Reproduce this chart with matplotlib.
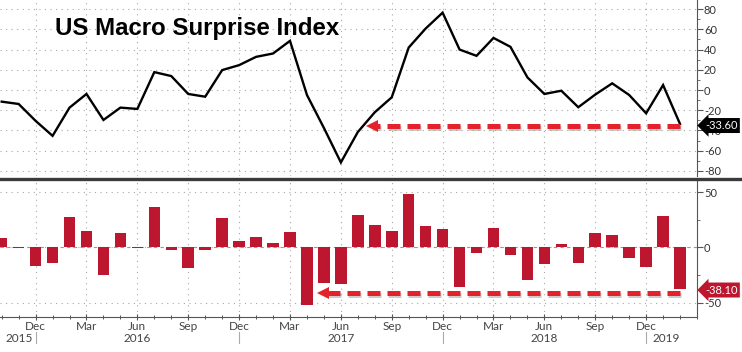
import matplotlib.pyplot as plt
import matplotlib.patheffects as pe
import matplotlib.transforms as mtransforms
from matplotlib.ticker import MultipleLocator, FixedLocator

# monthly points, Oct 2015 .. Feb 2019
months = ['Oct 2015', 'Nov 2015', 'Dec 2015',
          'Jan 2016', 'Feb 2016', 'Mar 2016', 'Apr 2016', 'May 2016', 'Jun 2016',
          'Jul 2016', 'Aug 2016', 'Sep 2016', 'Oct 2016', 'Nov 2016', 'Dec 2016',
          'Jan 2017', 'Feb 2017', 'Mar 2017', 'Apr 2017', 'May 2017', 'Jun 2017',
          'Jul 2017', 'Aug 2017', 'Sep 2017', 'Oct 2017', 'Nov 2017', 'Dec 2017',
          'Jan 2018', 'Feb 2018', 'Mar 2018', 'Apr 2018', 'May 2018', 'Jun 2018',
          'Jul 2018', 'Aug 2018', 'Sep 2018', 'Oct 2018', 'Nov 2018', 'Dec 2018',
          'Jan 2019', 'Feb 2019']

surprise = [-11.5, -13.8, -30.5, -45.3, -17.4, -3.9, -29.6, -17.4, -18.7,
            17.7, 13.8, -3.9, -6.6, 19.7, 24.6, 32.8, 36.1, 48.6,
            -4.9, -37.5, -71.6, -41.5, -22.0, -7.2, 42.0, 60.8, 76.5,
            40.0, 33.8, 51.5, 42.7, 12.5, -3.9, -0.7, -17.0, -4.5,
            6.6, -4.9, -23.0, 4.9, -33.6]

monthly_change = [8.6, -1.0, -16.8, -14.4, 27.6, 14.7, -24.9, 13.2, -0.8,
                  36.6, -2.4, -18.3, -2.4, 26.1, 5.7, 9.0, 3.6, 13.8,
                  -51.9, -32.4, -33.3, 29.7, 20.1, 15.0, 48.6, 19.5, 16.8,
                  -36.0, -5.1, 17.4, -6.9, -29.4, -15.3, 3.0, -14.4, 12.6,
                  11.1, -9.9, -17.4, 28.2, -38.1]

quarter_names = ['Dec', 'Mar', 'Jun', 'Sep']
years = ['2015', '2016', '2017', '2018', '2019']

BAR_RED = '#bd1730'
ARROW_RED = '#e3222b'
GRID = dict(color='#a8a8a8', linestyle=(0, (1, 4)), linewidth=0.8)


def style_axis(ax, n):
    ax.set_xlim(-0.1, n)
    ax.yaxis.tick_right()
    for side in ('left', 'top'):
        ax.spines[side].set_visible(False)
    ax.spines['right'].set_color('#555555')
    ax.tick_params(axis='y', which='major', length=4, width=0.8,
                   colors='#555555', labelcolor='#333333', labelsize=8, pad=1)
    ax.tick_params(axis='y', which='minor', length=2.5, width=0.6, colors='#555555')
    ax.xaxis.set_major_locator(FixedLocator(list(range(2, n, 3))))
    ax.xaxis.set_minor_locator(MultipleLocator(1))
    ax.grid(True, which='major', **GRID)
    ax.set_axisbelow(True)


def dashed_arrow(ax, x_tail, x_head, y):
    shadow = [pe.SimpleLineShadow(offset=(1, -1.5), shadow_color='#999999', alpha=0.5),
              pe.Normal()]
    ax.plot([x_tail, x_head + 0.4], [y, y], color=ARROW_RED, lw=3.6,
            dashes=(2.6, 1.4), solid_capstyle='butt', dash_capstyle='butt',
            path_effects=shadow, zorder=5)
    ax.plot([x_head + 0.35], [y], marker='<', markersize=9, color=ARROW_RED,
            markeredgewidth=0, zorder=6)


def value_tag(ax, value, y, color):
    ax.annotate('%.2f' % value, xy=(1.0, y), xycoords=ax.get_yaxis_transform(),
                xytext=(6, 0), textcoords='offset points', va='center', ha='left',
                color='white', fontsize=8, family='Lato',
                bbox=dict(boxstyle='larrow,pad=0.18', fc=color, ec='none'),
                zorder=10, annotation_clip=False)


def main():
    n = len(months)
    x = list(range(n))

    fig = plt.figure(figsize=(7.42, 3.52), dpi=100)
    ax_top = fig.add_axes([0.0, 0.5, 697 / 742, 0.5])
    ax_bot = fig.add_axes([0.0, 1 - 317 / 352, 697 / 742, (317 - 181) / 352])

    # top: surprise index
    ax_top.plot(x, surprise, color='black', lw=1.7, solid_joinstyle='miter', zorder=4)
    style_axis(ax_top, n)
    ax_top.set_ylim(-85, 89)
    top_ticks = list(range(-80, 81, 20))
    ax_top.yaxis.set_major_locator(FixedLocator(top_ticks))
    ax_top.yaxis.set_minor_locator(MultipleLocator(10))
    ax_top.set_yticklabels([str(v) for v in top_ticks], family='Lato')
    ax_top.spines['bottom'].set_visible(False)
    ax_top.tick_params(axis='x', which='both', bottom=False, labelbottom=False)
    dashed_arrow(ax_top, n - 1, 21.5, surprise[-1] - 1.5)
    value_tag(ax_top, surprise[-1], surprise[-1] - 1.5, 'black')

    # bottom: monthly change
    ax_bot.bar(x, monthly_change, width=0.68, color=BAR_RED, zorder=3)
    ax_bot.axhline(0, color='#999999', lw=0.8, linestyle=(0, (3, 3)), zorder=2)
    style_axis(ax_bot, n)
    ax_bot.set_ylim(-63, 60)
    ax_bot.yaxis.set_major_locator(FixedLocator([-50, 0, 50]))
    ax_bot.yaxis.set_minor_locator(FixedLocator([-25, 25]))
    ax_bot.set_yticklabels(['-50', '0', '50'], family='Lato')
    ax_bot.spines['bottom'].set_color('#555555')
    ax_bot.tick_params(axis='x', which='major', length=4, width=0.8, direction='inout',
                       colors='#555555', labelcolor='#444444', labelsize=8.5, pad=1)
    ax_bot.tick_params(axis='x', which='minor', length=3, width=0.7, direction='inout',
                       colors='#555555')
    nq = len(range(2, n, 3))
    ax_bot.set_xticklabels([quarter_names[k % 4] for k in range(nq)], family='Lato')
    dashed_arrow(ax_bot, n - 1, 18.6, monthly_change[-1] - 3)
    value_tag(ax_bot, monthly_change[-1], monthly_change[-1] - 0.5, BAR_RED)

    # year row and separators
    trans = mtransforms.blended_transform_factory(ax_bot.transData, ax_bot.transAxes)
    year_pos = [1.05, 8, 20, 32, 39.2]
    for yr, xp in zip(years, year_pos):
        ax_bot.text(xp, -0.155, yr, transform=trans, ha='center', va='center',
                    fontsize=8.5, color='#444444', family='Lato')
    for xs in range(2, n, 12):
        ax_bot.plot([xs, xs], [-0.11, -0.19], transform=trans, color='#aaaaaa',
                    lw=0.8, clip_on=False)

    # heavy divider between panels
    fig.add_artist(plt.Line2D([0, 1], [1 - 178.5 / 352] * 2, color='#3a3a3a', lw=2.4))

    fig.text(55 / 742, 1 - 35 / 352, 'US Macro Surprise Index', fontsize=17.3,
             fontweight='bold', family='Liberation Sans', va='baseline', ha='left')

    fig.savefig('out.png', dpi=100)


if __name__ == '__main__':
    main()
